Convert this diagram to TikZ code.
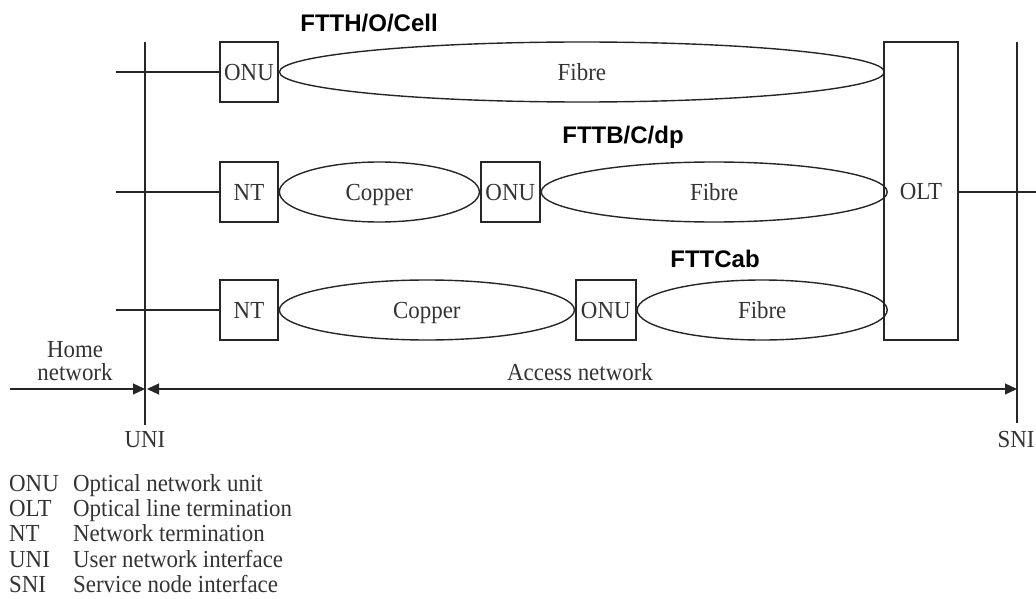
\documentclass[tikz,border=0pt]{standalone}
\usepackage{fontspec}
\setmainfont{Liberation Serif}[FakeStretch=0.935]
\setsansfont{Liberation Sans}
\usetikzlibrary{shapes.geometric,arrows.meta}

\newcommand\diagtext{\fontsize{24.5}{26}\selectfont}
\newcommand\techlabel{\fontsize{24}{26}\selectfont\sffamily\bfseries}

\begin{document}
\begin{tikzpicture}[x=1pt,y=-1pt,
  wire/.style={line width=1.4pt, draw=black!85},
  unitbox/.style={wire, rectangle, inner sep=0pt, minimum width=58pt,
    minimum height=60pt, font=\diagtext, text=black!80, text depth=0pt},
  cable/.style={wire, ellipse, inner sep=0pt, minimum height=60pt,
    font=\diagtext, text=black!80, text depth=0pt},
  tech/.style={font=\techlabel, text=black, inner sep=0pt, anchor=base},
  plain/.style={font=\diagtext, text=black!80, inner sep=0pt, anchor=base},
  legend/.style={font=\diagtext, text=black!80, inner sep=0pt, anchor=base west},
  span/.style={wire, line width=1.1pt, -{Triangle[length=12pt,width=11pt]}},
  dspan/.style={wire, line width=1.1pt,
    {Triangle[length=12pt,width=11pt]}-{Triangle[length=12pt,width=11pt]}}
]
\useasboundingbox (0,0) rectangle (1036,599);

% interface reference lines
\coordinate (uniTop) at (145,42);
\coordinate (uniBot) at (145,425);
\coordinate (sniTop) at (1017,42);
\coordinate (sniBot) at (1017,423);
\draw[wire] (uniTop) -- (uniBot);
\draw[wire] (sniTop) -- (sniBot);
\node[plain] (uni) at (145,447) {UNI};
\node[plain] (sni) at (1016,447) {SNI};

% FTTH/O/Cell
\node[unitbox] (onuA) at (249,72) {ONU};
\node[cable, minimum width=605pt, anchor=west] (fibA) at (onuA.east) {Fibre};
\node[tech] (labA) at (369,32) {FTTH/O/Cell};

% FTTB/C/dp
\node[unitbox] (ntB) at (249,192) {NT};
\node[cable, minimum width=200pt, anchor=west] (copB) at (ntB.east) {Copper};
\node[unitbox, minimum width=59pt, anchor=west] (onuB) at (copB.east) {ONU};
\node[cable, minimum width=346pt, anchor=west] (fibB) at (onuB.east) {Fibre};
\node[tech] (labB) at (623,143) {FTTB/C/dp};

% FTTCab
\node[unitbox] (ntC) at (249,310) {NT};
\node[cable, minimum width=295pt, anchor=west] (copC) at (ntC.east) {Copper};
\node[unitbox, minimum width=60pt, anchor=west] (onuC) at (copC.east) {ONU};
\node[cable, minimum width=250pt, anchor=west] (fibC) at (onuC.east) {Fibre};
\node[tech] (labC) at (715,267) {FTTCab};

% optical line termination
\node[unitbox, minimum width=74pt, minimum height=298pt] (olt) at (921,191) {OLT};

% home-side drops and network-side link
\coordinate (hA) at (116,72);
\coordinate (hB) at (116,192);
\coordinate (hC) at (116,310);
\coordinate (netR) at (1036,192);
\draw[wire] (hA) -- (onuA.west);
\draw[wire] (hB) -- (ntB.west);
\draw[wire] (hC) -- (ntC.west);
\draw[wire] (olt.east |- netR) -- (netR);

% network extents
\coordinate (homeL) at (10,389);
\coordinate (homeR) at (145,389);
\coordinate (accL) at (147,389);
\coordinate (accR) at (1017,389);
\draw[span] (homeL) -- (homeR);
\draw[dspan] (accL) -- (accR);
\node[plain] (homeA) at (75,357) {Home};
\node[plain] (homeB) at (75,380) {network};
\node[plain] (acc) at (580,380) {Access network};

% abbreviations
\node[legend] (k1) at (9,491) {ONU};
\node[legend] (d1) at (73,491) {Optical network unit};
\node[legend] (k2) at (9,516) {OLT};
\node[legend] (d2) at (73,516) {Optical line termination};
\node[legend] (k3) at (9,541) {NT};
\node[legend] (d3) at (73,541) {Network termination};
\node[legend] (k4) at (9,567.5) {UNI};
\node[legend] (d4) at (73,567.5) {User network interface};
\node[legend] (k5) at (9,592) {SNI};
\node[legend] (d5) at (73,592) {Service node interface};
\end{tikzpicture}
\end{document}
